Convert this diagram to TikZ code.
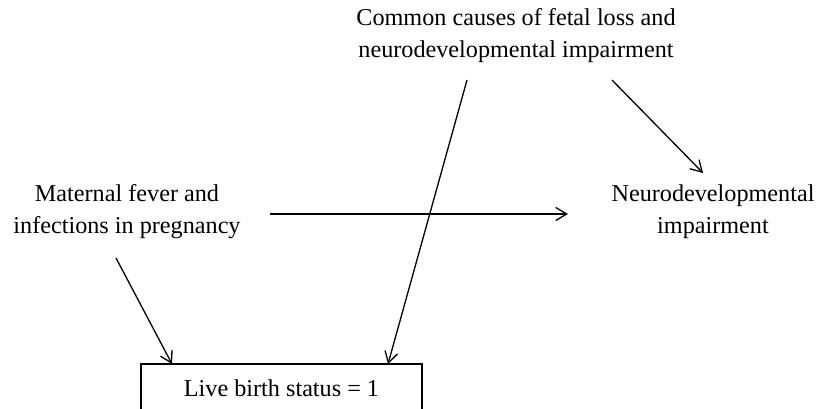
\documentclass[tikz,border=0pt]{standalone}
\usepackage{fontspec}
\setmainfont{Liberation Serif}
\usetikzlibrary{arrows.meta}
\begin{document}
\begin{tikzpicture}[x=1pt,y=-1pt,
  lbl/.style={align=center,inner sep=0pt,font=\fontsize{24.2}{32}\selectfont},
  boxnode/.style={draw,line width=1.3pt,minimum width=281pt,minimum height=48pt,inner sep=0pt,font=\fontsize{24.2}{32}\selectfont},
  arr/.style={line width=1.3pt,-{Straight Barb[length=11pt,width=13pt,line width=1.3pt]}}]
\useasboundingbox (0,0) rectangle (821,409);
\clip (0,0) rectangle (821,409);
\node[lbl] (cc) at (516,36) {Common causes of fetal loss and\\neurodevelopmental impairment};
\node[lbl] (mf) at (127,212) {Maternal fever and\\infections in pregnancy};
\node[lbl] (nd) at (713,212) {Neurodevelopmental\\impairment};
\node[boxnode] (lb) at (281.5,388) {Live birth status = 1};
\coordinate (mfa) at (116,258);
\coordinate (mfb) at (270,214);
\coordinate (nda) at (568,214);
\coordinate (cca) at (467,80);
\coordinate (ccb) at (612,80);
\coordinate (ndb) at (703,173);
\coordinate (lba) at (172,364);
\coordinate (lbb) at (388,364);
\draw[arr] (mfa) -- (lba);
\draw[arr] (mfb) -- (nda);
\draw[arr] (cca) -- (lbb);
\draw[arr] (ccb) -- (ndb);
\end{tikzpicture}
\end{document}
